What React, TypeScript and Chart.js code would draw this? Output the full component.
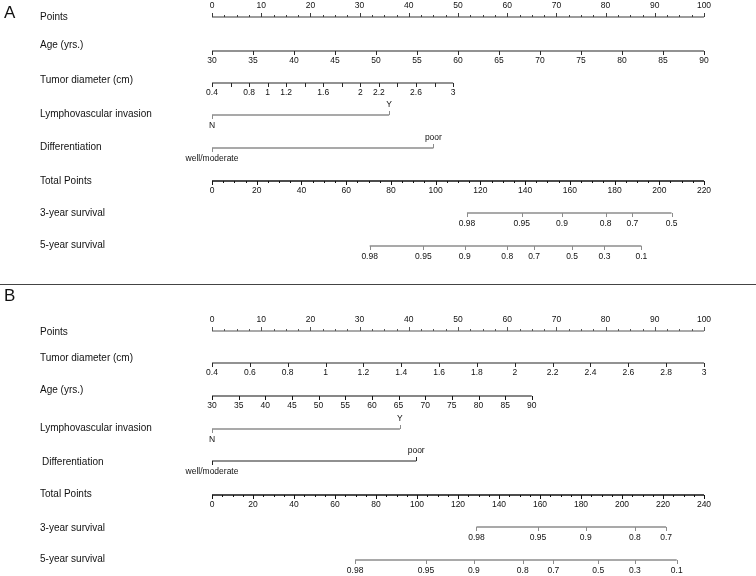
import React, { useEffect, useRef } from "react";
import { Chart, registerables } from "chart.js";

Chart.register(...registerables);

// ---------------- data ----------------
const POINTS_LABELS = [0, 10, 20, 30, 40, 50, 60, 70, 80, 90, 100];
const POINTS_MINOR_STEP = 2.5;

// Panel A
const A_AGE_LABELS = [30, 35, 40, 45, 50, 55, 60, 65, 70, 75, 80, 85, 90];
const A_AGE_POINTS_AT_90 = 100;
const A_TUMOR_TICKS = [0.4, 0.6, 0.8, 1, 1.2, 1.4, 1.6, 1.8, 2, 2.2, 2.4, 2.6, 2.8, 3];
const A_TUMOR_LABELS = [0.4, 0.8, 1, 1.2, 1.6, 2, 2.2, 2.6, 3];
const A_TUMOR_POINTS_AT_3 = 49;
const LVI_LEVELS = ["N", "Y"];
const A_LVI_POINTS = [0, 36];
const DIFF_LEVELS = ["well/moderate", "poor"];
const A_DIFF_POINTS = [0, 45];
const A_TOTAL_MAX = 220;
const A_TOTAL_LABELS = [0, 20, 40, 60, 80, 100, 120, 140, 160, 180, 200, 220];
const TOTAL_MINOR_STEP = 5;
const A_SURV3_LABELS = ["0.98", "0.95", "0.9", "0.8", "0.7", "0.5"];
const A_SURV3_TOTALS = [114, 138.5, 156.5, 176, 188, 205.5];
const A_SURV5_LABELS = ["0.98", "0.95", "0.9", "0.8", "0.7", "0.5", "0.3", "0.1"];
const A_SURV5_TOTALS = [70.5, 94.5, 113, 132, 144, 161, 175.5, 192];

// Panel B
const B_TUMOR_LABELS = [0.4, 0.6, 0.8, 1, 1.2, 1.4, 1.6, 1.8, 2, 2.2, 2.4, 2.6, 2.8, 3];
const B_TUMOR_POINTS_AT_3 = 100;
const B_AGE_LABELS = [30, 35, 40, 45, 50, 55, 60, 65, 70, 75, 80, 85, 90];
const B_AGE_POINTS_AT_90 = 65;
const B_LVI_POINTS = [0, 38.2];
const B_DIFF_POINTS = [0, 41.5];
const B_TOTAL_MAX = 240;
const B_TOTAL_LABELS = [0, 20, 40, 60, 80, 100, 120, 140, 160, 180, 200, 220, 240];
const B_SURV3_LABELS = ["0.98", "0.95", "0.9", "0.8", "0.7"];
const B_SURV3_TOTALS = [129, 159, 182.3, 206.3, 221.5];
const B_SURV5_LABELS = ["0.98", "0.95", "0.9", "0.8", "0.7", "0.5", "0.3", "0.1"];
const B_SURV5_TOTALS = [69.8, 104.4, 127.7, 151.6, 166.5, 188.4, 206.3, 226.7];

// ---------------- layout / style ----------------
const W = 756;
const H = 576;
const FONT = '"Liberation Sans", Arial, Helvetica, sans-serif';
const DARK = "#262626";
const GRAY = "#8c8c8c";

type Tick = { v: number; len: number; up: boolean };
type Txt = { v: number; text: string; above: boolean; dy: number };
type Row = {
  label: string;
  labelX: number;
  labelY: number;
  lineY: number;
  scaleId: string;
  from: number;
  to: number;
  color: string;
  width: number;
  ticks: Tick[];
  texts: Txt[];
};

function stepValues(a: number, b: number, step: number): number[] {
  const out: number[] = [];
  const n = Math.round((b - a) / step);
  for (let i = 0; i <= n; i++) out.push(a + i * step);
  return out;
}

function pointsRow(lineY: number, labelY: number, color: string): Row {
  const minor = stepValues(0, 100, POINTS_MINOR_STEP).filter((v) => !POINTS_LABELS.includes(v));
  return {
    label: "Points", labelX: 40, labelY, lineY, scaleId: "x", from: 0, to: 100, color, width: 1.2,
    ticks: [
      ...minor.map((v) => ({ v, len: 2, up: true })),
      ...POINTS_LABELS.map((v) => ({ v, len: 4, up: true })),
    ],
    texts: POINTS_LABELS.map((v) => ({ v, text: String(v), above: true, dy: 11 })),
  };
}

function numRow(label: string, labelY: number, lineY: number, scaleId: string, tickVals: number[], labelVals: number[], color: string, labelX = 40): Row {
  return {
    label, labelX, labelY, lineY, scaleId,
    from: tickVals[0], to: tickVals[tickVals.length - 1], color, width: 1.2,
    ticks: tickVals.map((v) => ({ v, len: 4, up: false })),
    texts: labelVals.map((v) => ({ v, text: String(v), above: false, dy: 10 })),
  };
}

function catRow(label: string, labelY: number, lineY: number, levels: string[], pts: number[], color: string, width: number, labelX = 40): Row {
  return {
    label, labelX, labelY, lineY, scaleId: "x", from: pts[0], to: pts[1], color, width,
    ticks: [
      { v: pts[0], len: 4, up: false },
      { v: pts[1], len: 4, up: true },
    ],
    texts: [
      { v: pts[0], text: levels[0], above: false, dy: 11 },
      { v: pts[1], text: levels[1], above: true, dy: 10 },
    ],
  };
}

function totalRow(lineY: number, labelY: number, scaleId: string, max: number, labels: number[]): Row {
  const minor = stepValues(0, max, TOTAL_MINOR_STEP).filter((v) => !labels.includes(v));
  return {
    label: "Total Points", labelX: 40, labelY, lineY, scaleId, from: 0, to: max, color: "#111", width: 1.3,
    ticks: [
      ...minor.map((v) => ({ v, len: 2, up: false })),
      ...labels.map((v) => ({ v, len: 4, up: false })),
    ],
    texts: labels.map((v) => ({ v, text: String(v), above: false, dy: 10 })),
  };
}

function survRow(label: string, labelY: number, lineY: number, scaleId: string, totals: number[], probs: string[]): Row {
  return {
    label, labelX: 40, labelY, lineY, scaleId,
    from: totals[0], to: totals[totals.length - 1], color: GRAY, width: 1.4,
    ticks: totals.map((v) => ({ v, len: 4, up: false })),
    texts: totals.map((v, i) => ({ v, text: probs[i], above: false, dy: 11 })),
  };
}

const ROWS: Row[] = [
  // Panel A
  pointsRow(17, 17, "#3a3a3a"),
  numRow("Age (yrs.)", 45, 51, "ageA", A_AGE_LABELS, A_AGE_LABELS, DARK),
  numRow("Tumor diameter (cm)", 80, 83, "tumA", A_TUMOR_TICKS, A_TUMOR_LABELS, DARK),
  catRow("Lymphovascular invasion", 114, 115, LVI_LEVELS, A_LVI_POINTS, GRAY, 1.5),
  catRow("Differentiation", 147, 148, DIFF_LEVELS, A_DIFF_POINTS, GRAY, 1.5),
  totalRow(181, 181, "totA", A_TOTAL_MAX, A_TOTAL_LABELS),
  survRow("3-year survival", 213, 213, "totA", A_SURV3_TOTALS, A_SURV3_LABELS),
  survRow("5-year survival", 245, 246, "totA", A_SURV5_TOTALS, A_SURV5_LABELS),
  // Panel B
  pointsRow(331, 332, "#555"),
  numRow("Tumor diameter (cm)", 358, 363, "tumB", B_TUMOR_LABELS, B_TUMOR_LABELS, DARK),
  numRow("Age (yrs.)", 390, 396, "ageB", B_AGE_LABELS, B_AGE_LABELS, "#111"),
  catRow("Lymphovascular invasion", 428, 429, LVI_LEVELS, B_LVI_POINTS, GRAY, 1.5),
  catRow("Differentiation", 462, 461, DIFF_LEVELS, B_DIFF_POINTS, "#222", 1.2, 42),
  totalRow(495, 494, "totB", B_TOTAL_MAX, B_TOTAL_LABELS),
  survRow("3-year survival", 528, 527, "totB", B_SURV3_TOTALS, B_SURV3_LABELS),
  survRow("5-year survival", 559, 560, "totB", B_SURV5_TOTALS, B_SURV5_LABELS),
];

const PANELS = [
  { text: "A", x: 4, y: 13 },
  { text: "B", x: 4, y: 296 },
];
const SEPARATOR_Y = 284;

const nomogramPlugin = {
  id: "nomogram",
  afterDatasetsDraw(chart: any) {
    const ctx: CanvasRenderingContext2D = chart.ctx;
    const yScale = chart.scales.y;
    ctx.save();
    // separator
    ctx.strokeStyle = "#444";
    ctx.lineWidth = 1;
    ctx.beginPath();
    ctx.moveTo(0, yScale.getPixelForValue(SEPARATOR_Y) + 0.5);
    ctx.lineTo(W, yScale.getPixelForValue(SEPARATOR_Y) + 0.5);
    ctx.stroke();
    // panel letters
    ctx.fillStyle = "#111";
    ctx.textBaseline = "middle";
    ctx.textAlign = "left";
    ctx.font = `17px ${FONT}`;
    PANELS.forEach((p) => ctx.fillText(p.text, p.x, yScale.getPixelForValue(p.y)));

    ROWS.forEach((row) => {
      const xs = chart.scales[row.scaleId];
      const ly = yScale.getPixelForValue(row.lineY);
      // row label
      ctx.fillStyle = "#111";
      ctx.textAlign = "left";
      ctx.textBaseline = "middle";
      ctx.font = `10px ${FONT}`;
      ctx.fillText(row.label, row.labelX, yScale.getPixelForValue(row.labelY));
      // ticks
      ctx.strokeStyle = row.color;
      ctx.lineWidth = 1;
      ctx.beginPath();
      row.ticks.forEach((t) => {
        const px = Math.round(xs.getPixelForValue(t.v)) + 0.5;
        ctx.moveTo(px, ly);
        ctx.lineTo(px, t.up ? ly - t.len : ly + t.len);
      });
      ctx.stroke();
      // tick labels
      ctx.fillStyle = "#111";
      ctx.textAlign = "center";
      ctx.font = `8.5px ${FONT}`;
      row.texts.forEach((t) => {
        const px = xs.getPixelForValue(t.v);
        ctx.fillText(t.text, px, t.above ? ly - t.dy : ly + t.dy);
      });
    });
    ctx.restore();
  },
};

export default function App() {
  const ref = useRef<HTMLCanvasElement | null>(null);

  useEffect(() => {
    if (!ref.current) return;
    const datasets = ROWS.map((row) => ({
      type: "scatter" as const,
      data: [
        { x: row.from, y: row.lineY },
        { x: row.to, y: row.lineY },
      ],
      xAxisID: row.scaleId,
      yAxisID: "y",
      showLine: true,
      borderColor: row.color,
      borderWidth: row.width,
      pointRadius: 0,
      clip: false as any,
    }));
    const hidden = { type: "linear" as const, display: false };
    const chart = new Chart(ref.current, {
      type: "scatter",
      data: { datasets },
      options: {
        responsive: false,
        animation: false,
        devicePixelRatio: 1,
        layout: { padding: { left: 212, right: 52, top: 0, bottom: 0 } },
        events: [],
        scales: {
          y: { ...hidden, min: 0, max: H, reverse: true },
          x: { ...hidden, min: 0, max: 100 },
          ageA: { ...hidden, min: 30, max: 30 + (60 * 100) / A_AGE_POINTS_AT_90 },
          tumA: { ...hidden, min: 0.4, max: 0.4 + (2.6 * 100) / A_TUMOR_POINTS_AT_3 },
          totA: { ...hidden, min: 0, max: A_TOTAL_MAX },
          tumB: { ...hidden, min: 0.4, max: 0.4 + (2.6 * 100) / B_TUMOR_POINTS_AT_3 },
          ageB: { ...hidden, min: 30, max: 30 + (60 * 100) / B_AGE_POINTS_AT_90 },
          totB: { ...hidden, min: 0, max: B_TOTAL_MAX },
        },
        plugins: { legend: { display: false }, tooltip: { enabled: false } },
      },
      plugins: [nomogramPlugin],
    });
    return () => chart.destroy();
  }, []);

  return (
    <div style={{ position: "absolute", left: 0, top: 0, width: W, height: H, background: "#fff" }}>
      <canvas ref={ref} width={W} height={H} style={{ display: "block" }} />
    </div>
  );
}
